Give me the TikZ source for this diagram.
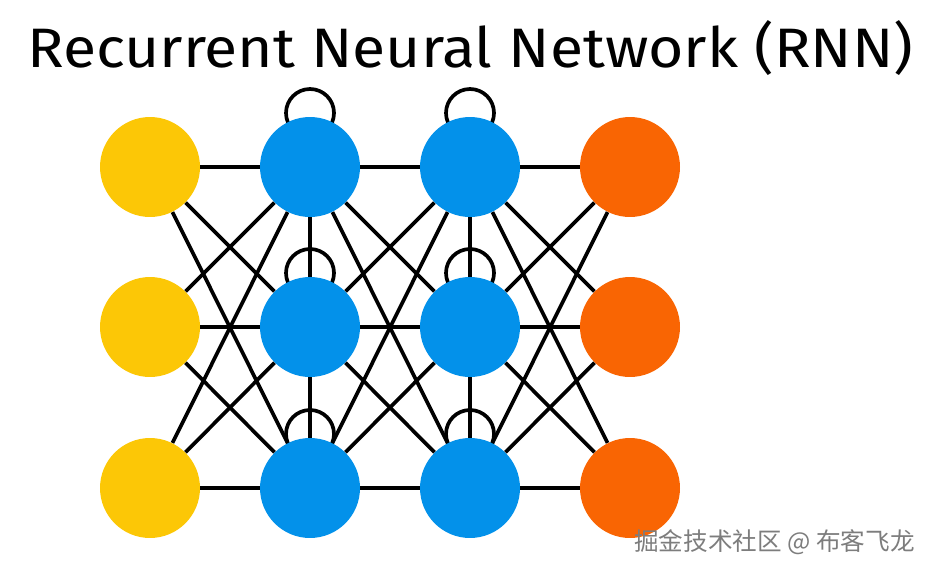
\documentclass[tikz,border=0pt]{standalone}
\usepackage{fontspec}
\setmainfont{Fira Sans}
\newfontfamily\cjk{Noto Sans CJK SC}
\usetikzlibrary{backgrounds}
\definecolor{inyellow}{RGB}{252,199,6}
\definecolor{hidblue}{RGB}{3,145,234}
\definecolor{outorange}{RGB}{249,101,3}
\definecolor{markgray}{RGB}{125,125,125}

\begin{document}
\begin{tikzpicture}[x=0.02cm, y=0.02cm,
    neuron/.style={circle, minimum size=2cm, inner sep=0pt},
    link/.style={line width=2.1pt}]
    \useasboundingbox (0,0) rectangle (936,576);

    % Title
    \node[anchor=base west, inner sep=0pt] (title) at (27,509)
        {\resizebox{17.72cm}{0.94cm}{Recurrent Neural Network (RNN)}};

    % Neurons
    \foreach \n/\y in {1/409, 2/249, 3/88} {
        \node[neuron, fill=inyellow] (i\n) at (150,\y) {};
        \node[neuron, fill=hidblue] (h\n) at (310,\y) {};
        \node[neuron, fill=hidblue] (g\n) at (470,\y) {};
        \node[neuron, fill=outorange] (o\n) at (630,\y) {};
    }

    % Connections
    \begin{scope}[on background layer]
        \foreach \a in {1,2,3} {
            \foreach \b in {1,2,3} {
                \draw[link] (i\a) -- (h\b);
                \draw[link] (h\a) -- (g\b);
                \draw[link] (g\a) -- (o\b);
            }
            % self loops
            \draw[link] (h\a.center) ++(0,54) circle (24);
            \draw[link] (g\a.center) ++(0,54) circle (24);
        }
        \draw[link] (h1) -- (h2) -- (h3);
        \draw[link] (g1) -- (g2) -- (g3);
    \end{scope}

    % Watermark
    \node[anchor=base east, inner sep=0pt, text=markgray,
        font=\cjk\fontsize{14pt}{14pt}\selectfont] (mark) at (915,26)
        {掘金技术社区 @ 布客飞龙};
\end{tikzpicture}
\end{document}
